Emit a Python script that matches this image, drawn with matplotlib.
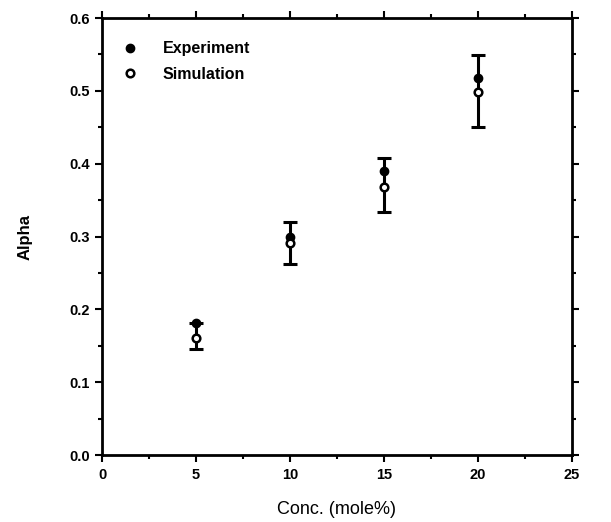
import matplotlib
matplotlib.use('Agg')
import matplotlib.pyplot as plt
import numpy as np
from matplotlib.ticker import MultipleLocator

plt.rcParams['font.family'] = ['Liberation Sans', 'DejaVu Sans']

# data
conc = [5, 10, 15, 20]
experiment = [0.182, 0.300, 0.390, 0.518]
simulation = [0.161, 0.291, 0.368, 0.499]
err_low = [0.146, 0.262, 0.334, 0.450]
err_high = [0.182, 0.320, 0.408, 0.549]

fig = plt.figure(figsize=(6.11, 5.22), dpi=100)
ax = fig.add_axes([0.167, 0.128, 0.769, 0.8375])

sim = np.array(simulation)
yerr = [sim - np.array(err_low), np.array(err_high) - sim]
ax.errorbar(conc, simulation, yerr=yerr, fmt='none', ecolor='black',
            elinewidth=2.2, capsize=5, capthick=2.2, zorder=2)
ax.plot(conc, experiment, 'o', color='black', markersize=6, zorder=3,
        label='Experiment')
ax.plot(conc, simulation, 'o', mfc='white', mec='black', mew=1.8,
        markersize=5.5, zorder=4, label='Simulation')

ax.set_xlim(0, 25)
ax.set_ylim(0, 0.6)
ax.xaxis.set_major_locator(MultipleLocator(5))
ax.xaxis.set_minor_locator(MultipleLocator(2.5))
ax.yaxis.set_major_locator(MultipleLocator(0.1))
ax.yaxis.set_minor_locator(MultipleLocator(0.05))
ax.yaxis.set_major_formatter(matplotlib.ticker.FormatStrFormatter('%.1f'))

ax.tick_params(which='both', direction='out', top=True, right=True, width=1.5)
ax.tick_params(which='major', length=5, labelsize=10.5, pad=4)
ax.tick_params(which='minor', length=3)
for lab in ax.get_xticklabels() + ax.get_yticklabels():
    lab.set_fontweight('bold')
for sp in ax.spines.values():
    sp.set_linewidth(2)

ax.set_xlabel('Conc. (mole%)', fontsize=13, labelpad=14)
ax.set_ylabel('Alpha', fontsize=12, fontweight='bold', labelpad=26)

ax.legend(loc='upper left', bbox_to_anchor=(0.012, 0.98), frameon=False,
          prop={'size': 11.5, 'weight': 'bold'}, handletextpad=1.55,
          labelspacing=0.68, handlelength=1)

plt.savefig('out.png', dpi=100)
